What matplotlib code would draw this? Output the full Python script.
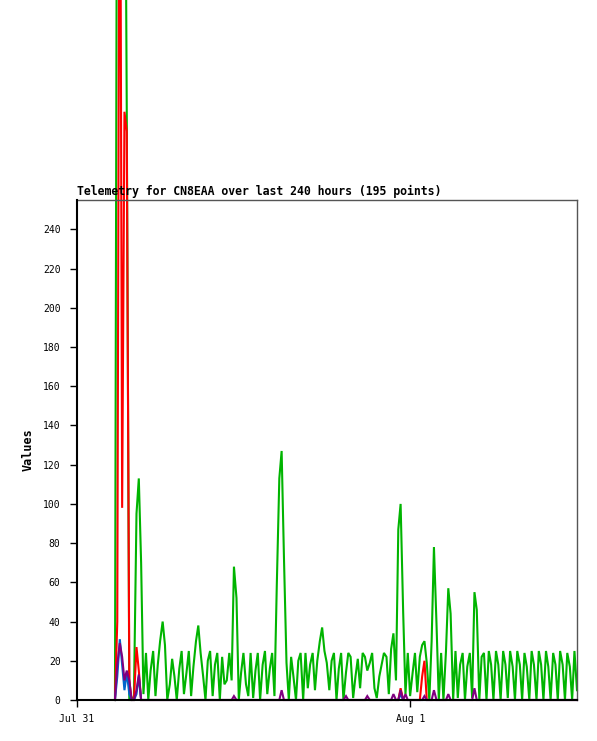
import numpy as np
import matplotlib
matplotlib.use("Agg")
import matplotlib.pyplot as plt

# sample times, minutes after Jul 31 00:00 (195 points)
minutes = [
    164, 174, 185, 195, 205, 215, 226, 236, 246, 257, 267, 277, 287, 298,
    308, 318, 329, 339, 349, 359, 370, 380, 390, 401, 411, 421, 431, 442,
    452, 462, 473, 483, 493, 503, 514, 524, 534, 545, 555, 565, 575, 586,
    596, 606, 617, 627, 637, 647, 658, 668, 678, 689, 699, 709, 719, 730,
    740, 750, 761, 771, 781, 791, 802, 812, 822, 833, 843, 853, 863, 874,
    884, 894, 905, 915, 925, 935, 946, 956, 966, 977, 987, 997, 1007, 1018,
    1028, 1038, 1049, 1059, 1069, 1079, 1090, 1100, 1110, 1121, 1131, 1141, 1151, 1162,
    1172, 1182, 1193, 1203, 1213, 1223, 1234, 1244, 1254, 1265, 1275, 1285, 1295, 1306,
    1316, 1326, 1337, 1347, 1357, 1367, 1378, 1388, 1398, 1409, 1419, 1429, 1439, 1450,
    1460, 1470, 1481, 1491, 1501, 1511, 1522, 1532, 1542, 1553, 1563, 1573, 1583, 1594,
    1604, 1614, 1625, 1635, 1645, 1655, 1666, 1676, 1686, 1697, 1707, 1717, 1727, 1738,
    1748, 1758, 1769, 1779, 1789, 1799, 1810, 1820, 1830, 1841, 1851, 1861, 1871, 1882,
    1892, 1902, 1913, 1923, 1933, 1943, 1954, 1964, 1974, 1985, 1995, 2005, 2015, 2026,
    2036, 2046, 2057, 2067, 2077, 2087, 2098, 2108, 2118, 2129, 2139, 2149, 2160,
]

green = [
    0, 520, 380, 520, 520, 300, 0, 0, 2, 95,
    113, 70, 3, 24, 0, 15, 25, 2, 18, 30,
    40, 28, 0, 8, 21, 12, 0, 16, 25, 3,
    14, 25, 2, 17, 30, 38, 24, 12, 0, 20,
    25, 2, 18, 24, 0, 22, 8, 10, 24, 10,
    68, 52, 0, 14, 24, 8, 2, 24, 1, 15,
    24, 0, 18, 25, 3, 16, 24, 2, 58, 113,
    127, 73, 19, 0, 22, 12, 0, 20, 24, 0,
    24, 6, 18, 24, 5, 20, 30, 37, 25, 19,
    5, 20, 24, 0, 16, 24, 0, 14, 24, 22,
    1, 12, 21, 6, 24, 22, 15, 19, 24, 6,
    1, 12, 18, 24, 22, 3, 26, 34, 10, 87,
    100, 45, 3, 24, 2, 14, 24, 4, 22, 28,
    30, 19, 0, 30, 78, 39, 0, 24, 0, 25,
    57, 44, 0, 25, 1, 18, 24, 0, 17, 24,
    1, 55, 46, 0, 22, 24, 0, 25, 18, 0,
    25, 18, 0, 25, 18, 1, 25, 17, 0, 25,
    18, 0, 24, 17, 0, 25, 18, 0, 25, 18,
    0, 25, 17, 0, 24, 18, 0, 25, 18, 0,
    24, 17, 0, 25, 5,
]

# other channels read zero except at these samples (index, value)
red_idx = [1, 2, 3, 4, 5, 6, 9, 10, 120, 129, 130]
red_val = [40, 520, 98, 300, 290, 10, 27, 15, 6, 12, 20]
blue_idx = [1, 2, 3, 4, 5, 6, 9, 10, 120]
blue_val = [12, 31, 18, 5, 14, 3, 3, 12, 3]
purple_idx = [1, 2, 3, 4, 5, 6, 9, 10, 50, 70, 97, 106, 117, 120, 122, 130, 134, 140, 151]
purple_val = [18, 29, 22, 10, 15, 10, 5, 13, 2, 5, 2, 2, 3, 5, 3, 2, 5, 3, 6]

day_ticks = [0, 1440]
day_labels = ["Jul 31", "Aug 1"]
y_ticks = list(range(0, 241, 20))


def expand(idx, val, n):
    out = np.zeros(n)
    out[idx] = val
    return out


n = len(minutes)
red = expand(red_idx, red_val, n)
blue = expand(blue_idx, blue_val, n)
purple = expand(purple_idx, purple_val, n)

mono = "DejaVu Sans Mono"
fig = plt.figure(figsize=(5.97, 7.41), dpi=100)
ax = fig.add_axes([77 / 597, 1 - 700 / 741, 500 / 597, 500 / 741])

for ys, col in [(green, "#00b400"), (red, "#ff0000"),
                (blue, "#0066cc"), (purple, "#800080")]:
    ax.plot(minutes, ys, color=col, lw=1.5, clip_on=False,
            solid_joinstyle="miter")

ax.set_xlim(0, 2160)
ax.set_ylim(0, 255)
ax.set_xticks(day_ticks)
ax.set_xticklabels(day_labels, fontfamily=mono, fontsize=7)
ax.set_yticks(y_ticks)
ax.set_yticklabels([str(v) for v in y_ticks], fontfamily=mono, fontsize=7)
ax.tick_params(axis="y", direction="out", length=5.3, width=1, pad=6.5)
ax.tick_params(axis="x", direction="out", length=5, width=1, pad=5)

for side in ("left", "bottom"):
    ax.spines[side].set_color("black")
    ax.spines[side].set_linewidth(1.5)
    ax.spines[side].set_zorder(5)
for side in ("top", "right"):
    ax.spines[side].set_color("#555555")
    ax.spines[side].set_linewidth(1)

ax.set_ylabel("Values", fontfamily=mono, fontweight="bold", fontsize=8.5,
              labelpad=6)
ax.set_title("Telemetry for CN8EAA over last 240 hours (195 points)",
             loc="left", fontfamily=mono, fontweight="bold", fontsize=8.3,
             pad=3.5)

fig.savefig("out.png", dpi=100)
